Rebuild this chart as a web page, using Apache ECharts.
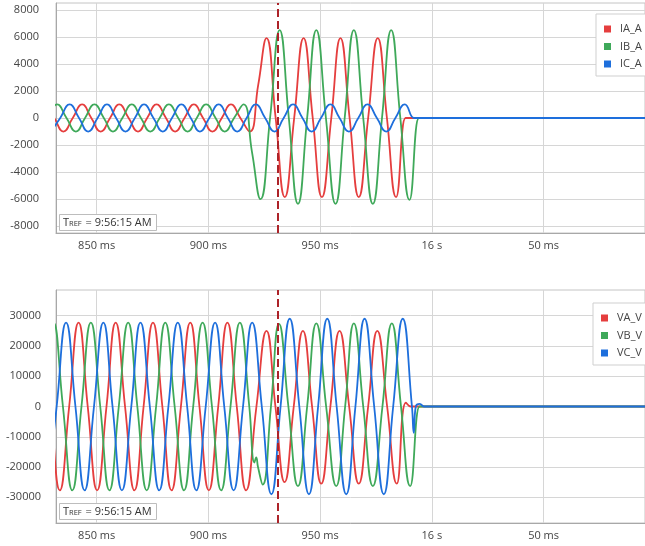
<!DOCTYPE html>
<html>
<head>
<meta charset="utf-8">
<style>html,body{margin:0;padding:0;background:#fff;}#c{width:645px;height:546px;}</style>
<script src="https://cdn.jsdelivr.net/npm/echarts@6/dist/echarts.min.js"></script>
</head>
<body>
<div id="c"></div>
<script>
// ---- data (time in ms after 9:56:15) ----
const xTicks = [850, 900, 950, 1000, 1050];
const currentTicks = [-8000, -6000, -4000, -2000, 0, 2000, 4000, 6000, 8000];
const voltageTicks = [-30000, -20000, -10000, 0, 10000, 20000, 30000];
const eventTime = 931.0;
const trefText = '9:56:15 AM';

const IA_A = [[826.8,1000],[831.0,0],[835.1,-1000],[839.3,0],[843.5,1000],[847.6,0],[851.8,-1000],[856.0,0],[860.1,1000],[864.3,0],[868.5,-1000],[872.6,0],[876.8,1000],[881.0,0],[885.1,-1000],[889.3,0],[893.5,1000],[897.6,0],[901.8,-1000],[906.0,0],[910.1,1000],[914.3,0],[918.5,-1000],[922.3,2450],[926.0,5900],[930.1,0],[934.2,-5850],[938.4,0],[942.6,5900],[946.7,0],[950.8,-5850],[955.0,0],[959.1,5900],[963.2,0],[967.3,-5850],[971.5,0],[975.8,5900],[979.9,0],[984.0,-5850],[988.2,0],[989.0,0],[1100,0]];
const IB_A = [[824.0,-1000],[828.2,0],[832.3,1000],[836.5,0],[840.7,-1000],[844.8,0],[849.0,1000],[853.2,0],[857.3,-1000],[861.5,0],[865.7,1000],[869.8,0],[874.0,-1000],[878.2,0],[882.3,1000],[886.5,0],[890.7,-1000],[894.8,0],[899.0,1000],[903.2,0],[907.3,-1000],[911.5,0],[915.7,1000],[919.5,-2500],[923.3,-6000],[927.6,0],[931.9,6500],[936.0,0],[940.1,-6350],[944.2,0],[948.3,6500],[952.6,0],[956.9,-6350],[961.0,0],[965.1,6500],[969.3,0],[973.6,-6350],[977.7,0],[981.8,6500],[985.9,0],[990.0,-6050],[994.2,0],[995.0,0],[1100,0]];
const IC_A = [[829.6,-1000],[833.7,0],[837.9,1000],[842.1,0],[846.2,-1000],[850.4,0],[854.6,1000],[858.7,0],[862.9,-1000],[867.1,0],[871.2,1000],[875.4,0],[879.6,-1000],[883.7,0],[887.9,1000],[892.1,0],[896.2,-1000],[900.4,0],[904.6,1000],[908.7,0],[912.9,-1000],[917.1,0],[921.2,1000],[925.4,0],[929.6,-1000],[933.7,0],[937.9,1000],[942.1,0],[946.2,-1000],[950.4,0],[954.6,1000],[958.7,0],[962.9,-1000],[967.1,0],[971.2,1000],[975.4,0],[979.6,-1000],[983.7,0],[987.9,1000],[992.0,0],[992.8,0],[1100,0]];

const VA_V = [[825.2,27700],[829.4,0],[833.5,-27700],[837.7,0],[841.9,27700],[846.0,0],[850.2,-27700],[854.4,0],[858.5,27700],[862.7,0],[866.9,-27700],[871.0,0],[875.2,27700],[879.4,0],[883.5,-27700],[887.7,0],[891.9,27700],[896.0,0],[900.2,-27700],[904.4,0],[908.5,27700],[912.7,0],[916.9,-27700],[921.5,0],[926.0,25000],[930.0,0],[934.1,-25000],[938.2,0],[942.3,25000],[946.4,0],[950.5,-25500],[954.6,0],[958.7,25000],[963.0,0],[967.3,-25500],[971.5,0],[975.6,25000],[980.0,0],[984.3,-25500],[988.4,1300],[990.6,0],[991.4,0],[1100,0]];
const VB_V = [[822.4,-27700],[826.6,0],[830.7,27700],[834.9,0],[839.1,-27700],[843.2,0],[847.4,27700],[851.6,0],[855.7,-27700],[859.9,0],[864.1,27700],[868.2,0],[872.4,-27700],[876.6,0],[880.7,27700],[884.9,0],[889.1,-27700],[893.2,0],[897.4,27700],[901.6,0],[905.7,-27700],[909.9,0],[914.1,27700],[918.3,0],[920.6,-18500],[921.4,-16800],[922.2,-20000],[924.3,-25800],[928.0,0],[931.6,27300],[935.8,0],[940.1,-26300],[944.2,0],[948.3,27500],[952.7,0],[957.2,-26300],[961.2,0],[965.1,27500],[969.3,0],[973.6,-26300],[977.9,0],[982.1,27500],[986.2,0],[990.3,-26300],[994.5,0],[995.3,0],[1100,0]];
const VC_V = [[828.0,-27700],[832.1,0],[836.3,27700],[840.5,0],[844.6,-27700],[848.8,0],[853.0,27700],[857.1,0],[861.3,-27700],[865.5,0],[869.6,27700],[873.8,0],[878.0,-27700],[882.1,0],[886.3,27700],[890.5,0],[894.6,-27700],[898.8,0],[903.0,27700],[907.1,0],[911.3,-27700],[915.5,0],[919.6,27700],[923.9,0],[928.2,-29000],[932.3,0],[936.4,29000],[940.7,0],[945.0,-29000],[949.1,0],[953.2,29000],[957.4,0],[961.7,-29000],[965.8,0],[969.9,29000],[974.2,0],[978.5,-29000],[982.7,0],[987.0,29000],[991.1,0],[991.9,-8700],[992.8,0],[994.6,900],[996.5,0],[997.3,0],[1100,0]];

// ---- styles ----
const RED = '#e53e3e', GREEN = '#3fa95a', BLUE = '#1e6fdc';
const FONT = '"Open Sans", "Noto Sans", sans-serif';
const LABEL = '#444';

function xFmt(v) {
  if (v === 1000) return '16 s';
  if (v > 1000) return (v - 1000) + ' ms';
  return v + ' ms';
}

function xAxis(gi) {
  return {
    type: 'value', gridIndex: gi, min: 831.8, max: 1095.4,
    axisLine: {show: true, onZero: false, lineStyle: {color: '#a8a8a8'}},
    axisTick: {show: false, customValues: xTicks},
    axisLabel: {customValues: xTicks, formatter: xFmt, color: LABEL, fontSize: 11, fontFamily: FONT, margin: 7},
    splitLine: {show: true, lineStyle: {color: '#d6d6d6'}}
  };
}
function yAxis(gi, lim, ticks, margin) {
  return {
    type: 'value', gridIndex: gi, min: -lim, max: lim,
    axisLine: {show: true, lineStyle: {color: '#a8a8a8'}},
    axisTick: {show: false, customValues: ticks},
    axisLabel: {customValues: ticks, formatter: v => String(v), color: LABEL, fontSize: 11, fontFamily: FONT, margin},
    splitLine: {show: true, lineStyle: {color: '#d6d6d6'}}
  };
}
function line(name, data, color, gi, mark) {
  const s = {
    name, type: 'line', data, xAxisIndex: gi, yAxisIndex: gi,
    showSymbol: false, symbol: 'none', smooth: 0.5,
    lineStyle: {color, width: 1.8}, itemStyle: {color}, clip: true
  };
  if (mark) {
    s.markLine = {
      silent: true, symbol: ['none', 'none'], label: {show: false},
      lineStyle: {color: '#ad2329', type: [8, 4], width: 2},
      data: [{xAxis: eventTime}]
    };
  }
  return s;
}
function tref(top) {
  return {
    left: 59, top,
    text: '{t|T}{s|REF}{t| = ' + trefText + '}',
    backgroundColor: '#fff', borderColor: '#bdbdbd', borderWidth: 1,
    padding: [3, 5, 3, 4],
    textStyle: {
      fontWeight: 'normal',
      rich: {
        t: {fontSize: 11, fontFamily: FONT, fontWeight: 'normal', color: '#333', lineHeight: 13, verticalAlign: 'bottom'},
        s: {fontSize: 7.5, fontFamily: FONT, fontWeight: 'normal', color: '#333', lineHeight: 13, verticalAlign: 'bottom', padding: [0, 1, 0, 0]}
      }
    }
  };
}
function legend(names, left, top) {
  return {
    data: names, orient: 'vertical', left, top,
    icon: 'rect', itemWidth: 7, itemHeight: 7, itemGap: 5.5,
    padding: [9, 24, 6, 8],
    backgroundColor: '#fff', borderColor: '#cfcfcf', borderWidth: 1,
    textStyle: {fontSize: 11, fontFamily: FONT, color: '#444', lineHeight: 12, padding: [0, 0, 0, 4]}
  };
}

const chart = echarts.init(document.getElementById('c'), null, {renderer: 'canvas'});
chart.setOption({
  animation: false,
  backgroundColor: '#fff',
  title: [tref(212), tref(501)],
  legend: [legend(['IA_A', 'IB_A', 'IC_A'], 596, 14), legend(['VA_V', 'VB_V', 'VC_V'], 593, 303)],
  grid: [
    {left: 56, right: -1, top: 3, height: 230, show: true, borderColor: '#c4c4c4', borderWidth: 1},
    {left: 56, right: -1, top: 290, height: 233, show: true, borderColor: '#c4c4c4', borderWidth: 1}
  ],
  xAxis: [xAxis(0), xAxis(1)],
  yAxis: [yAxis(0, 8500, currentTicks, 17), yAxis(1, 38500, voltageTicks, 15)],
  series: [
    line('IA_A', IA_A, RED, 0, false),
    line('IB_A', IB_A, GREEN, 0, false),
    line('IC_A', IC_A, BLUE, 0, true),
    line('VA_V', VA_V, RED, 1, false),
    line('VB_V', VB_V, GREEN, 1, false),
    line('VC_V', VC_V, BLUE, 1, true)
  ]
});
</script>
</body>
</html>
